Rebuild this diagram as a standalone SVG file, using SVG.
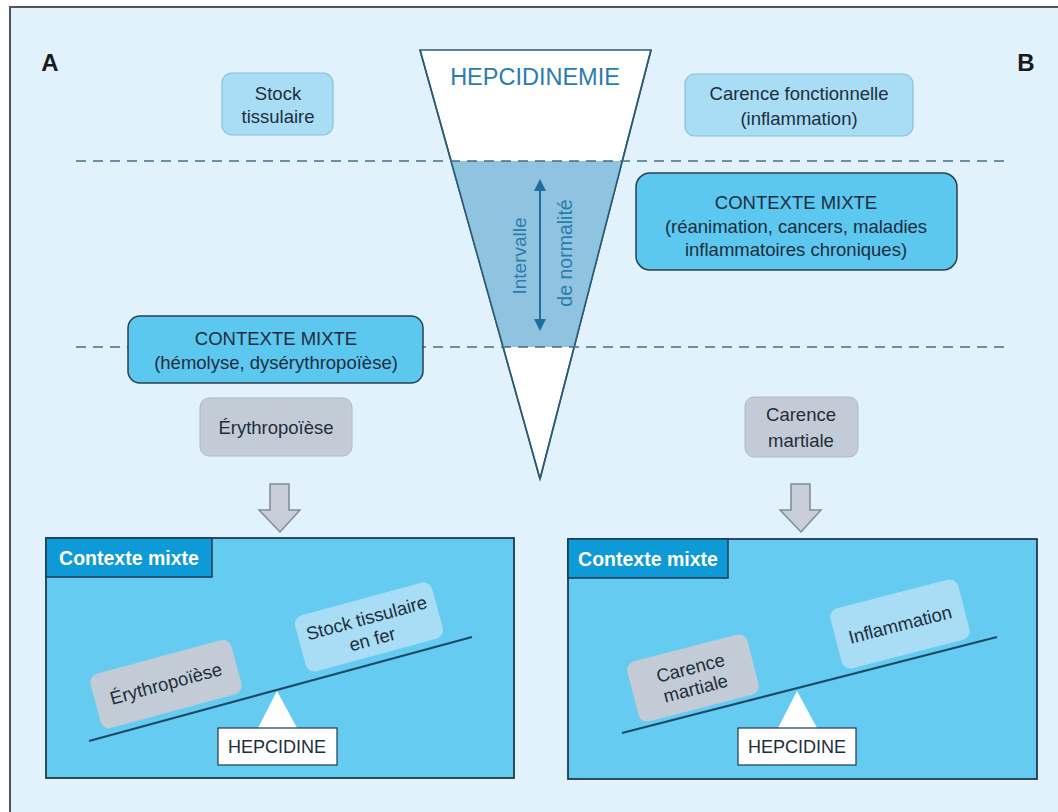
<svg xmlns="http://www.w3.org/2000/svg" width="1058" height="812" viewBox="0 0 1058 812">
<defs>
<style>
.t{font-family:"Liberation Sans",Arial,sans-serif;fill:#1e2e3c;text-anchor:middle;font-size:18.5px}
.lt{fill:#a9ddf6;stroke:#86bfdc;stroke-width:1.2}
.mx{fill:#5cc7ef;stroke:#2a3f50;stroke-width:1.5}
.gr{fill:#c3ccd6;stroke:#b0bac6;stroke-width:1}
.dash{stroke:#456c85;stroke-width:1.5;stroke-dasharray:10 7;fill:none}
.panel{fill:#66cbf0;stroke:#1f3a50;stroke-width:1.8}
.tab{fill:#0d9ad7;stroke:#1f3a50;stroke-width:1.5}
.beam{stroke:#1b4a66;stroke-width:2.2}
.blk{fill:#c9cfd8;stroke:#7f8b96;stroke-width:1.5}
.tabt{font-size:19.5px;font-weight:bold;fill:#ffffff}
.blue{fill:#2a7cae}
</style>
<marker id="ah" viewBox="0 0 10 10" refX="5" refY="5" markerWidth="6" markerHeight="6" orient="auto-start-reverse"><path d="M0,0 L10,5 L0,10 z" fill="#1c6e9c"/></marker>
</defs>
<rect x="0" y="0" width="1058" height="812" fill="#ffffff"/>
<rect x="10" y="7" width="1070" height="830" fill="#e1f2fc" stroke="#555" stroke-width="2"/>
<text x="50" y="71" class="t" style="font-size:24px;font-weight:bold;fill:#1a1a1a">A</text>
<text x="1026" y="71" class="t" style="font-size:24px;font-weight:bold;fill:#1a1a1a">B</text>

<g id="funnel">
<polygon points="420,50 651,50 540,479" fill="#ffffff" stroke="#2b5a74" stroke-width="1.6"/>
<polygon points="451,161 622,161 574,347 503,347" fill="#8fc3df"/>
<line x1="420" y1="50" x2="540" y2="479" stroke="#2b5a74" stroke-width="1.6"/>
<line x1="651" y1="50" x2="540" y2="479" stroke="#2b5a74" stroke-width="1.6"/>
<text x="535" y="85" class="t blue" style="font-size:23.5px">HEPCIDINEMIE</text>
<line x1="540" y1="185" x2="540" y2="325" stroke="#1c6e9c" stroke-width="2" marker-start="url(#ah)" marker-end="url(#ah)"/>
<text transform="translate(526,256) rotate(-90)" class="t blue" style="font-size:19px">Intervalle</text>
<text transform="translate(572,253) rotate(-90)" class="t blue" style="font-size:19.5px">de normalité</text>
</g>

<g id="connectors">
<line x1="76" y1="161" x2="1004" y2="161" class="dash"/>
<line x1="76" y1="347" x2="1004" y2="347" class="dash"/>
<polygon points="270,484 289,484 289,510 300,510 280,532 259,510 270,510" class="blk"/>
<polygon points="791,484 810,484 810,510 821,510 801,532 780,510 791,510" class="blk"/>
</g>

<g id="stock">
<rect x="222" y="73" width="111" height="62" rx="10" class="lt"/>
<text x="278" y="100" class="t">Stock</text>
<text x="278" y="123" class="t">tissulaire</text>
</g>
<g id="carence-fonct">
<rect x="685" y="74" width="228" height="62" rx="10" class="lt"/>
<text x="799" y="100" class="t">Carence fonctionnelle</text>
<text x="799" y="125" class="t">(inflammation)</text>
</g>
<g id="mixte-b">
<rect x="636" y="173" width="321" height="97" rx="14" class="mx"/>
<text x="796" y="209" class="t">CONTEXTE MIXTE</text>
<text x="796" y="233" class="t">(réanimation, cancers, maladies</text>
<text x="796" y="256" class="t">inflammatoires chroniques)</text>
</g>
<g id="mixte-a">
<rect x="128" y="316" width="295" height="67" rx="12" class="mx"/>
<text x="276" y="345" class="t">CONTEXTE MIXTE</text>
<text x="276" y="369" class="t">(hémolyse, dysérythropoïèse)</text>
</g>
<g id="erythro">
<rect x="200" y="398" width="152" height="58" rx="9" class="gr"/>
<text x="276" y="434" class="t">Érythropoïèse</text>
</g>
<g id="carence-martiale">
<rect x="745" y="397" width="113" height="60" rx="9" class="gr"/>
<text x="801" y="421" class="t">Carence</text>
<text x="801" y="447" class="t">martiale</text>
</g>

<g id="panel-a">
<rect x="46" y="538" width="468" height="240" class="panel"/>
<rect x="46" y="538" width="166" height="39" class="tab"/>
<text x="129" y="565" class="t tabt">Contexte mixte</text>
<g transform="translate(166,684) rotate(-15.2)">
<rect x="-73" y="-28" width="146" height="56" rx="9" fill="#c3ccd6"/>
<text x="0" y="6" class="t">Érythropoïèse</text>
</g>
<g transform="translate(369,627) rotate(-15.2)">
<rect x="-71" y="-29" width="142" height="58" rx="9" fill="#a9ddf6"/>
<text x="0" y="-3" class="t">Stock tissulaire</text>
<text x="0" y="19" class="t">en fer</text>
</g>
<line x1="89" y1="741" x2="472" y2="637" class="beam"/>
<polygon points="277,691 258,728 297,728" fill="#ffffff"/>
<rect x="218" y="728" width="119" height="37" fill="#ffffff" stroke="#1f3a50" stroke-width="1.2"/>
<text x="277" y="753" class="t" style="font-size:18px">HEPCIDINE</text>
</g>

<g id="panel-b">
<rect x="568" y="539" width="469" height="240" class="panel"/>
<rect x="568" y="539" width="160" height="39" class="tab"/>
<text x="648" y="566" class="t tabt">Contexte mixte</text>
<g transform="translate(693,678) rotate(-14.4)">
<rect x="-62" y="-31" width="124" height="62" rx="9" fill="#c3ccd6"/>
<text x="0" y="-4" class="t">Carence</text>
<text x="0" y="17" class="t">martiale</text>
</g>
<g transform="translate(900,624) rotate(-14.4)">
<rect x="-66" y="-31" width="132" height="62" rx="9" fill="#a9ddf6"/>
<text x="0" y="7" class="t">Inflammation</text>
</g>
<line x1="622" y1="733" x2="997" y2="637" class="beam"/>
<polygon points="797,691 778,728 817,728" fill="#ffffff"/>
<rect x="738" y="728" width="118" height="37" fill="#ffffff" stroke="#1f3a50" stroke-width="1.2"/>
<text x="797" y="753" class="t" style="font-size:18px">HEPCIDINE</text>
</g>
</svg>
